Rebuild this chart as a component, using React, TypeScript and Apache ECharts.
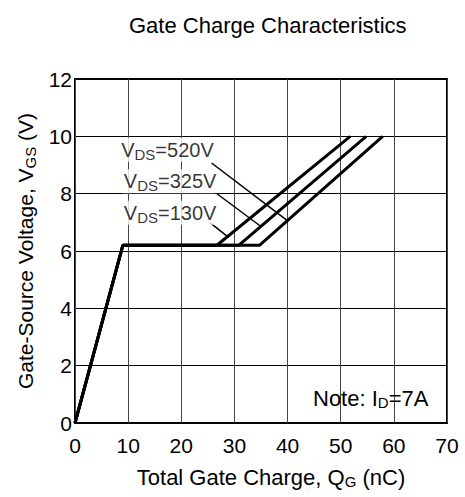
import React, { useEffect, useRef } from "react";
import * as echarts from "echarts";

const xTicks = [0, 10, 20, 30, 40, 50, 60, 70];
const yTicks = [0, 2, 4, 6, 8, 10, 12];

const curveLabels = ["130V", "325V", "520V"];
// Gate charge (nC) and Vgs (V) break points for each VDS curve
const qg130 = [0, 9, 26.7, 51.8];
const qg325 = [0, 9, 30.8, 54.8];
const qg520 = [0, 9, 34.7, 57.9];
const vgs = [0, 6.2, 6.2, 10];

// leader lines [x1, y1, x2, y2] in data units
const leader130 = [25.4, 6.99, 28.6, 6.52];
const leader325 = [26.4, 8.04, 34.8, 6.88];
const leader520 = [25.7, 9.07, 39.9, 7.07];

// label anchor positions (data units)
const labelPos130 = [9.0, 7.33];
const labelPos325 = [9.0, 8.43];
const labelPos520 = [8.5, 9.53];

const FONT = "Liberation Sans, Arial, sans-serif";

export default function App() {
  const ref = useRef<HTMLDivElement>(null);
  useEffect(() => {
    if (!ref.current) return;
    document.body.style.margin = "0";
    const chart = echarts.init(ref.current, null, { renderer: "svg" });
    const mk = (qs: number[]) => qs.map((q, i) => [q, vgs[i]]);
    const curves = [qg130, qg325, qg520];
    const leaders = [leader130, leader325, leader520];
    const lpos = [labelPos130, labelPos325, labelPos520];
    const sub = { fontSize: 15, fontFamily: FONT, color: "#000", verticalAlign: "bottom", padding: [9, 0, 0, 0] };
    const series: any[] = [];
    curves.forEach((qs) => {
      series.push({
        type: "line",
        data: mk(qs),
        symbol: "none",
        lineStyle: { color: "#000", width: 3 },
        z: 5,
      });
    });
    leaders.forEach((l) => {
      series.push({
        type: "line",
        data: [
          [l[0], l[1]],
          [l[2], l[3]],
        ],
        symbol: "none",
        lineStyle: { color: "#000", width: 1.5 },
        z: 4,
      });
    });
    series.push({
      type: "scatter",
      symbolSize: 0,
      z: 6,
      data: lpos.map((p, i) => ({ value: p, name: curveLabels[i] })),
      label: {
        show: true,
        position: "right",
        distance: 0,
        formatter: (p: any) => `{a|V}{s|DS}{a|=${p.name}}`,
        backgroundColor: "#fff",
        padding: [0, 1, 0, 1],
        rich: {
          a: { fontSize: 20, fontFamily: FONT, color: "#000" },
          s: sub,
        },
      },
    });
    chart.setOption({
      animation: false,
      title: {
        text: "Gate Charge Characteristics",
        left: 124,
        top: 9,
        textStyle: { fontSize: 22, fontWeight: "normal", fontFamily: FONT, color: "#000" },
      },
      grid: {
        left: 75,
        right: 18,
        top: 79,
        bottom: 74,
        show: true,
        borderColor: "#000",
        borderWidth: 2,
        backgroundColor: "#fff",
      },
      xAxis: {
        type: "value",
        min: xTicks[0],
        max: xTicks[xTicks.length - 1],
        interval: 10,
        name: "Total Gate Charge, Q{s|G} (nC)",
        nameLocation: "middle",
        nameGap: 42,
        nameTextStyle: {
          fontSize: 22,
          fontFamily: FONT,
          color: "#000",
          padding: [0, 0, 0, 20],
          rich: { s: sub },
        },
        axisLine: { show: false },
        axisTick: { show: false },
        axisLabel: { fontSize: 21, fontFamily: FONT, color: "#000", margin: 12 },
        splitLine: { show: true, lineStyle: { color: "#444", width: 1 } },
      },
      yAxis: {
        type: "value",
        min: yTicks[0],
        max: yTicks[yTicks.length - 1],
        interval: 2,
        name: "Gate-Source Voltage, V{s|GS} (V)",
        nameLocation: "middle",
        nameGap: 37,
        nameTextStyle: {
          fontSize: 21,
          fontFamily: FONT,
          color: "#000",
          rich: { s: sub },
        },
        axisLine: { show: false },
        axisTick: { show: false },
        axisLabel: { fontSize: 21, fontFamily: FONT, color: "#000", margin: 3 },
        splitLine: { show: true, lineStyle: { color: "#000", width: 1 } },
      },
      graphic: [
        {
          type: "text",
          left: 313,
          top: 387,
          z: 10,
          style: {
            text: "{a|Note: I}{s|D}{a|=7A}",
            rich: {
              a: { fontSize: 22, fontFamily: FONT, fill: "#000" },
              s: { fontSize: 15, fontFamily: FONT, fill: "#000", verticalAlign: "bottom", padding: [9, 0, 0, 0] },
            },
          },
        },
      ],
      series,
    });
    return () => chart.dispose();
  }, []);
  return <div ref={ref} style={{ width: 465, height: 497 }} />;
}
